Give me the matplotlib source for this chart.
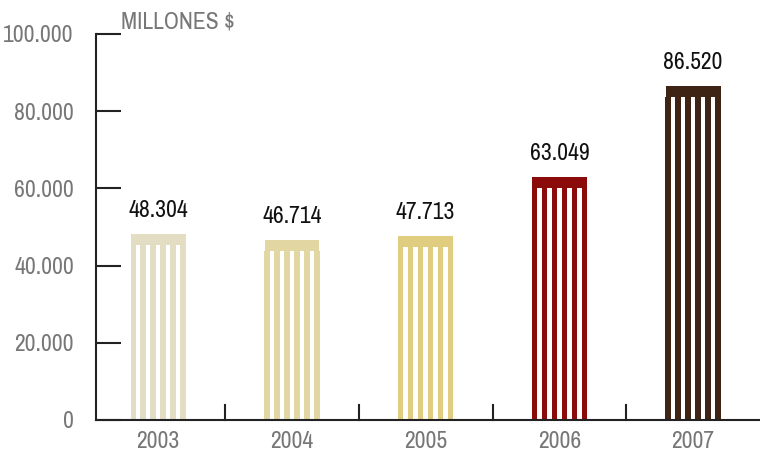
import numpy as np
import matplotlib.pyplot as plt
from matplotlib import font_manager

years = ['2003', '2004', '2005', '2006', '2007']
values = [48304, 46714, 47713, 63049, 86520]
labels = ['48.304', '46.714', '47.713', '63.049', '86.520']
colors = ['#e3ddc3', '#e2d7a2', '#e1cd80', '#8b0a0a', '#3e2415']
yticks = [0, 20000, 40000, 60000, 80000, 100000]
ytick_labels = ['0', '20.000', '40.000', '60.000', '80.000', '100.000']

# condensed face if present, otherwise a plain sans at a smaller size
names = {f.name for f in font_manager.fontManager.ttflist}
if 'Archivo Narrow' in names:
    plt.rcParams['font.family'] = ['Archivo Narrow', 'DejaVu Sans']
    fs = 17
else:
    plt.rcParams['font.family'] = ['Liberation Sans', 'DejaVu Sans']
    fs = 15

fig = plt.figure(figsize=(7.6, 4.53), dpi=100)
ax = fig.add_axes([96 / 760, 33 / 453, 664 / 760, 386 / 453])

bar_w = 0.41
band = 2900
n_stripes = 6
unit = bar_w / (2 * n_stripes - 1)
x = np.arange(len(years))
for xi, v, c, lab in zip(x, values, colors, labels):
    left = xi - bar_w / 2
    ax.bar(xi, band, bottom=v - band, width=bar_w, color=c, linewidth=0)
    for k in range(n_stripes):
        ax.bar(left + unit * (2 * k + 0.5), v - band, width=unit * 1.1, color=c, linewidth=0)
    ax.text(xi, v + 6000, lab, ha='center', va='center', fontsize=fs, color='#111111')

ax.set_xlim(-0.465, 4.5)
ax.set_ylim(0, 100000)
ax.set_yticks(yticks)
ax.set_yticklabels(ytick_labels)
ax.set_xticks(x)
ax.set_xticklabels(years)
ax.tick_params(axis='y', direction='in', length=18, width=1.5, colors='#222222',
               labelcolor='#777777', labelsize=fs, pad=16)
ax.tick_params(axis='x', length=0, labelcolor='#777777', labelsize=fs, pad=8)
for b in x[:-1] + 0.5:
    ax.plot([b, b], [0, 3800], color='#222222', lw=1.5, clip_on=False)

for s in ['top', 'right']:
    ax.spines[s].set_visible(False)
ax.spines['left'].set_linewidth(1.5)
ax.spines['bottom'].set_linewidth(1.5)
ax.spines['left'].set_color('#222222')
ax.spines['bottom'].set_color('#222222')

fig.text(121 / 760, 1 - 22 / 453, 'MILLONES $', ha='left', va='center', fontsize=fs, color='#777777')

fig.savefig('out.png', dpi=100)
